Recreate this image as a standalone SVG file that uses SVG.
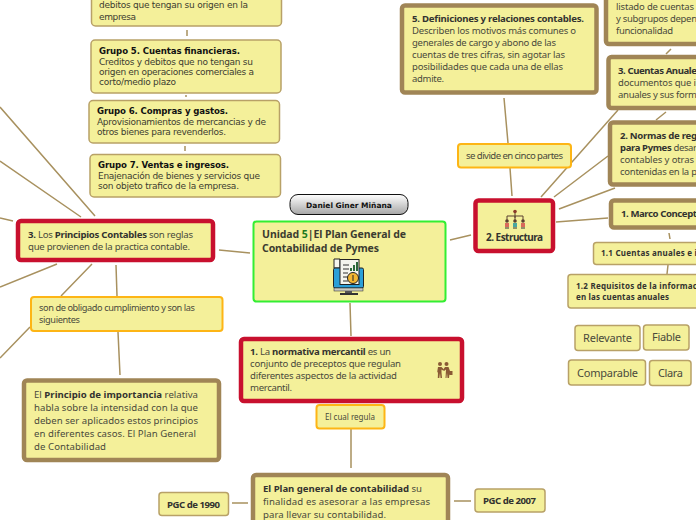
<svg xmlns="http://www.w3.org/2000/svg" width="696" height="520" viewBox="0 0 696 520">
<defs>
<linearGradient id="pill" x1="0" y1="0" x2="0" y2="1"><stop offset="0" stop-color="#ffffff"/><stop offset="1" stop-color="#a6a6a6"/></linearGradient>
</defs>
<style>
text{font-family:"Noto Sans","DejaVu Sans",sans-serif;font-size:9.6px;fill:#4a4a3c}
.b{font-weight:700;fill:#333330}
.v{font-family:"DejaVu Sans",sans-serif;font-size:9px;fill:#3c3c30}
.vb{font-family:"DejaVu Sans",sans-serif;font-size:8.6px;font-weight:700;fill:#111}
.n{fill:#f4f09a}
.brown{stroke:#a08556;stroke-width:4.5}
.red{stroke:#c8102e;stroke-width:4.5}
.org{stroke:#fdb515;stroke-width:2}
.thin{stroke:#b8a167;stroke-width:1.5}
.lnk{fill:none;stroke:#a8915f;stroke-width:1.5}
.big{font-size:9.5px}
.ttl{font-size:10.5px;font-weight:700;fill:#3c3c30}
.lab{font-size:11px}
.sm{font-size:8px;font-weight:700;fill:#333330}
</style>
<g id="connectors" class="lnk">
<path d="M187 30V36M186 95V97M185 146V151"/>
<path d="M0 107L95 216M0 161L81 217M0 218L13 221M219 250L250 253"/>
<path d="M57 264L0 287M92 264L61 296M116 265L117 296M118 332L120 375M30 327L0 358"/>
<path d="M450 240L471 235M350 303L351 336M351 429L351 468"/>
<path d="M232 503H248M454 501H471"/>
<path d="M504 98L508 143M510 168L512 196"/>
<path d="M541 197L618 110M554 197L608 156M559 209L615 188M556 222L608 218"/>
<path d="M671 49L666 54M666 112L656 120M669 233L670 239M668 265L667 274"/>
</g>
<g id="grupo4"><rect class="n thin" x="91.5" y="-20" width="190" height="46" rx="4"/><text class="v" x="99" y="8" textLength="149">debitos que tengan su origen en la</text><text class="v" x="99" y="19.500" textLength="37">empresa</text></g>
<g id="grupo5"><rect class="n thin" x="91" y="40" width="190" height="53" rx="4"/><text class="vb" x="99" y="54" textLength="141">Grupo 5. Cuentas financieras.</text><text class="v" x="99" y="64.500" textLength="154">Creditos y debitos que no tengan su</text><text class="v" x="99" y="75" textLength="155">origen en operaciones comerciales a</text><text class="v" x="99" y="85" textLength="77">corto/medio plazo</text></g>
<g id="grupo6"><rect class="n thin" x="89" y="100.500" width="190.500" height="42.500" rx="4"/><text class="vb" x="97" y="114" textLength="131">Grupo 6. Compras y gastos.</text><text class="v" x="97" y="125" textLength="169">Aprovisionamientos de mercancias y de</text><text class="v" x="97" y="135" textLength="129">otros bienes para revenderlos.</text></g>
<g id="grupo7"><rect class="n thin" x="90" y="154.500" width="190.500" height="42.500" rx="4"/><text class="vb" x="98" y="168" textLength="131">Grupo 7. Ventas e ingresos.</text><text class="v" x="98" y="179" textLength="162">Enajenación de bienes y servicios que</text><text class="v" x="98" y="189" textLength="141">son objeto trafico de la empresa.</text></g>
<g id="autor"><rect x="290" y="194.500" width="118" height="20" rx="8" fill="url(#pill)" stroke="#111" stroke-width="1"/><text x="349" y="207.500" text-anchor="middle" style="font-family:'DejaVu Sans',sans-serif;font-size:7.5px;font-weight:700;fill:#111">Daniel Giner Miñana</text></g>
<g id="principios"><rect class="n red" x="18" y="221" width="195" height="39" rx="3"/><text x="28" y="238" textLength="165"><tspan class="b">3.</tspan> Los <tspan class="b">Principios Contables</tspan> son reglas</text><text x="28" y="250" textLength="162">que provienen de la practica contable.</text></g>
<g id="titulo"><rect class="n" x="253.500" y="221.500" width="192" height="80" rx="3" stroke="#33ee33" stroke-width="2"/><text class="ttl" x="262" y="238" textLength="144">Unidad <tspan fill="#1e7a1e">5</tspan>|El Plan General de</text><text class="ttl" x="262" y="252" textLength="117">Contabilidad de Pymes</text>
<g id="icono-monitor"><path d="M334 259h6v9h-6z" fill="#f5f5ee" stroke="#222" stroke-width="1"/><rect x="333.500" y="268" width="30" height="20" rx="1.500" fill="#2b9fd8" stroke="#222" stroke-width="1"/><rect x="340" y="259.500" width="19" height="25" fill="#f5f5ee" stroke="#222" stroke-width="1"/><path d="M343 265h6M343 269h6M343 273h5M343 277h5M343 281h5" stroke="#333" stroke-width="1"/><path d="M351 271V268M354 271V265M357 271V262" stroke="#2c6a3a" stroke-width="2"/><circle cx="353" cy="278" r="5.500" fill="#f2b632" stroke="#222" stroke-width="1"/><path d="M353 275V281" stroke="#222"/><rect x="334" y="288" width="29" height="3" fill="#c9c9c0" stroke="#222" stroke-width="0.500"/><rect x="345" y="291" width="7" height="2" fill="#555"/><rect x="340" y="293" width="18" height="2" fill="#333"/></g></g>
<g id="obligado"><rect class="n org" x="31" y="297" width="191.500" height="34" rx="3"/><text x="39" y="311" textLength="156" style="font-size:9.2px">son de obligado cumplimiento y son las</text><text x="39" y="323" textLength="41" style="font-size:9.2px">siguientes</text></g>
<g id="importancia"><rect class="n brown" x="24" y="380.500" width="195" height="79.500" rx="3"/><text x="34" y="398" textLength="164">El <tspan class="b">Principio de importancia</tspan> relativa</text><text x="34" y="411" textLength="164">habla sobre la intensidad con la que</text><text x="34" y="424" textLength="164">deben ser aplicados estos principios</text><text x="34" y="437" textLength="162">en diferentes casos. El Plan General</text><text x="34" y="450" textLength="72">de Contabilidad</text></g>
<g id="normativa"><rect class="n red" x="241" y="339" width="221" height="62" rx="3"/><text x="250" y="355" textLength="141"><tspan class="b">1.</tspan> La <tspan class="b">normativa mercantil</tspan> es un</text><text x="250" y="367" textLength="151">conjunto  de preceptos que regulan</text><text x="250" y="379" textLength="147">diferentes aspectos de la actividad</text><text x="250" y="391" textLength="42">mercantil.</text>
<g id="icono-manos" fill="#8a5a35"><circle cx="440" cy="364" r="2"/><circle cx="446.500" cy="364" r="2"/><path d="M438 367h3.500l2.500 2.500-1 1-1.500-1v3l.5 5.500h-1.500l-.5-5-.7 5h-1.500l.2-6.500-1 1.500z"/><path d="M445 367h3.500l1.500 4h2.500v4h-3v-1.500l-.5 4.500h-1.500l-.5-5-.5 5h-1l.5-8.500-2 1.500-1-1z"/></g></g>
<g id="regula"><rect class="n org" x="316.500" y="405" width="68" height="23.500" rx="3"/><text x="325" y="419.500" textLength="50" style="font-size:8px">El cual regula</text></g>
<g id="plan"><rect class="n brown" x="253" y="475" width="195" height="60" rx="3"/><text x="263" y="492" textLength="159"><tspan class="b">El Plan general de contabilidad</tspan> su</text><text x="263" y="505" textLength="167">finalidad es  asesorar a las empresas</text><text x="263" y="518" textLength="123">para llevar su contabilidad.</text></g>
<g id="pgc1990"><rect class="n thin" x="159" y="492.500" width="69.500" height="23" rx="3"/><text class="b" x="167" y="507.500" textLength="53">PGC de 1990</text></g>
<g id="pgc2007"><rect class="n thin" x="475" y="489" width="70" height="23" rx="3"/><text class="b" x="483" y="504" textLength="53">PGC de 2007</text></g>
<g id="estructura"><rect class="n red" x="475.500" y="200.500" width="77.500" height="50.500" rx="3"/><text class="b" x="486" y="240.500" textLength="57" style="font-size:10px">2. Estructura</text>
<g id="icono-red"><path d="M515 212V218M507 222V216H523V222M515 216V222" fill="none" stroke="#5a4030" stroke-width="1"/><circle cx="515" cy="211.500" r="1.800" fill="#8a3a2a"/><circle cx="507" cy="221" r="1.800" fill="#5a4030"/><circle cx="515" cy="221" r="1.800" fill="#5a4030"/><circle cx="523" cy="221" r="1.800" fill="#5a4030"/><rect x="505" y="223" width="4" height="4" fill="#d96a5a"/><rect x="513" y="223" width="4" height="4" fill="#4aa6a0"/><rect x="521" y="223" width="4" height="4" fill="#d96a5a"/><path d="M506 227v2M508 227v2M514 227v2M516 227v2M522 227v2M524 227v2" stroke="#333"/></g></g>
<g id="divide"><rect class="n org" x="458" y="144" width="113" height="23.500" rx="3"/><text x="466" y="159" textLength="97">se divide en cinco partes</text></g>
<g id="definiciones"><rect class="n brown" x="402" y="5.500" width="194.500" height="87" rx="3"/><text class="b" x="412" y="22" textLength="172">5. Definiciones y relaciones contables.</text><text class="big" x="412" y="34" textLength="164">Describen los motivos más comunes o</text><text class="big" x="412" y="46" textLength="144">generales de cargo y abono de las</text><text class="big" x="412" y="58" textLength="153">cuentas de tres cifras, sin agotar las</text><text class="big" x="412" y="70" textLength="151">posibilidades que cada una de ellas</text><text class="big" x="412" y="82" textLength="32">admite.</text></g>
<g id="listado"><rect class="n brown" x="606" y="-20" width="110" height="64" rx="3"/><text class="big" x="616" y="10" textLength="78">listado de cuentas</text><text class="big" x="616" y="22" textLength="81">y subgrupos depen</text><text class="big" x="616" y="34" textLength="57">funcionalidad</text></g>
<g id="anuales"><rect class="n brown" x="608.500" y="57" width="110" height="51" rx="3"/><text class="b" x="618" y="74" textLength="79">3. Cuentas Anuale</text><text class="big" x="618" y="86" textLength="78">documentos que i</text><text class="big" x="618" y="98" textLength="79">anuales y sus form</text></g>
<g id="normas"><rect class="n brown" x="610" y="122.500" width="110" height="62" rx="3"/><text class="b" x="620" y="139" textLength="77">2. Normas de reg</text><text class="big" x="620" y="151" textLength="77"><tspan class="b">para Pymes</tspan> desar</text><text class="big" x="620" y="163" textLength="74">contables y otras</text><text class="big" x="620" y="175" textLength="77">contenidas en la p</text></g>
<g id="marco"><rect class="n brown" x="611" y="200.500" width="110" height="27" rx="3"/><text class="b" x="621" y="217" textLength="76">1. Marco Concept</text></g>
<g id="cuentas11"><rect class="n thin" x="593.500" y="242.500" width="120" height="22" rx="3"/><text class="sm" x="601" y="256" textLength="96">1.1 Cuentas anuales e i</text></g>
<g id="requisitos"><rect class="n thin" x="568" y="274.500" width="150" height="33.500" rx="3"/><text class="sm" x="576" y="289" textLength="121">1.2 Requisitos de la informac</text><text class="sm" x="576" y="300" textLength="93">en las cuentas anuales</text></g>
<g id="relevante"><rect class="n thin" x="575" y="325.500" width="65" height="25" rx="3"/><text class="lab" x="583" y="342" textLength="49">Relevante</text></g>
<g id="fiable"><rect class="n thin" x="643.500" y="325" width="45.500" height="25" rx="3"/><text class="lab" x="652" y="341" textLength="29">Fiable</text></g>
<g id="comparable"><rect class="n thin" x="568.500" y="360" width="77" height="25" rx="3"/><text class="lab" x="577" y="376.500" textLength="61">Comparable</text></g>
<g id="clara"><rect class="n thin" x="649.500" y="360.500" width="41.500" height="25" rx="3"/><text class="lab" x="658" y="377" textLength="25">Clara</text></g>
</svg>
